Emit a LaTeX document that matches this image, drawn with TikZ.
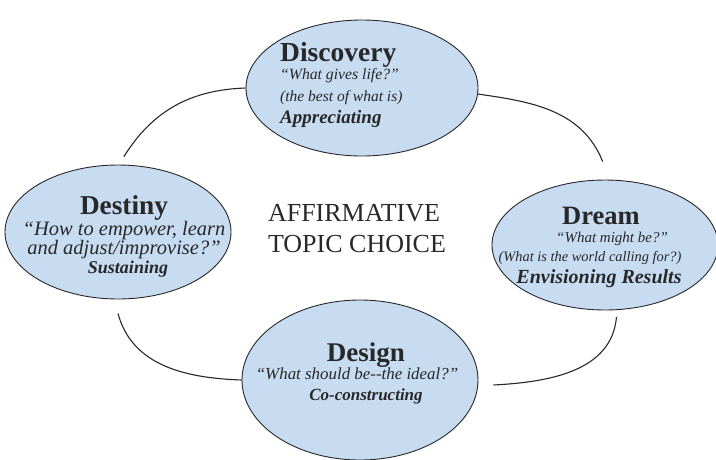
\documentclass[tikz,border=0pt]{standalone}
\usepackage{fontspec}
\setmainfont{Liberation Serif}
\usetikzlibrary{shapes.geometric}
\definecolor{phasefill}{RGB}{199,219,241}
\definecolor{inkgray}{RGB}{40,40,40}

\begin{document}
\begin{tikzpicture}[x=1pt, y=1pt,
    phase/.style={draw=inkgray, ellipse, fill=phasefill, line width=0.9pt, inner sep=0pt},
    link/.style={draw=inkgray, line width=1.1pt},
    phasetitle/.style={font=\fontsize{#1}{#1}\selectfont\bfseries, text=inkgray, anchor=base, inner sep=0pt},
    phaseline/.style={font=\fontsize{#1}{#1}\selectfont\itshape, text=inkgray, anchor=base, inner sep=0pt},
    phaseverb/.style={font=\fontsize{#1}{#1}\selectfont\bfseries\itshape, text=inkgray, anchor=base, inner sep=0pt},
    topic/.style={font=\fontsize{26}{26}\selectfont, text=inkgray, anchor=base, inner sep=0pt}]
\useasboundingbox (0,0) rectangle (716,-459);

% the four phases
\node[phase, minimum width=232pt, minimum height=136pt] (discovery) at (362,-88) {};
\node[phase, minimum width=226pt, minimum height=134pt] (destiny) at (118,-232) {};
\node[phase, minimum width=226pt, minimum height=130pt] (dream) at (605,-245) {};
\node[phase, minimum width=236pt, minimum height=160pt] (design) at (360,-380) {};

\node[phasetitle=27.5, anchor=base west] (discovery-title) at (280,-61) {Discovery};
\node[phaseline=15.7, anchor=base west] (discovery-ask) at (280,-79) {“What gives life?”};
\node[phaseline=15.5, anchor=base west] (discovery-best) at (280,-101) {(the best of what is)};
\node[phaseverb=19, anchor=base west] (discovery-verb) at (280,-123) {Appreciating};

\node[phasetitle=27.3] (destiny-title) at (124,-214) {Destiny};
\node[phaseline=20.5] (destiny-ask) at (124,-235) {“How to empower, learn};
\node[phaseline=20.5] (destiny-adjust) at (124,-254) {and adjust/improvise?”};
\node[phaseverb=18] (destiny-verb) at (128,-273) {Sustaining};

\node[phasetitle=26.5] (dream-title) at (601,-224) {Dream};
\node[phaseline=15] (dream-ask) at (612,-242) {“What might be?”};
\node[phaseline=14.4] (dream-world) at (590,-261) {(What is the world calling for?)};
\node[phaseverb=20] (dream-verb) at (599,-283) {Envisioning Results};

\node[phasetitle=27] (design-title) at (366,-361) {Design};
\node[phaseline=16.9] (design-ask) at (357,-379) {“What should be{-}{-}the ideal?”};
\node[phaseverb=17] (design-verb) at (366,-400) {Co-constructing};

% centre
\node[topic] (topic-a) at (354,-221) {AFFIRMATIVE};
\node[topic] (topic-b) at (357,-252) {TOPIC CHOICE};

% the cycle
\draw[link] (discovery.west) to[out=182, in=58] ([yshift=8pt]destiny.85);
\draw[link] (discovery.-3) to[out=-8, in=112] ([yshift=18pt]dream.92);
\draw[link] ([yshift=-14pt]destiny.south) to[out=-75, in=178] (design.west);
\draw[link] ([yshift=-7pt]dream.-80) to[out=-95, in=3] ([shift={(15pt,-5pt)}]design.east);
\end{tikzpicture}
\end{document}
